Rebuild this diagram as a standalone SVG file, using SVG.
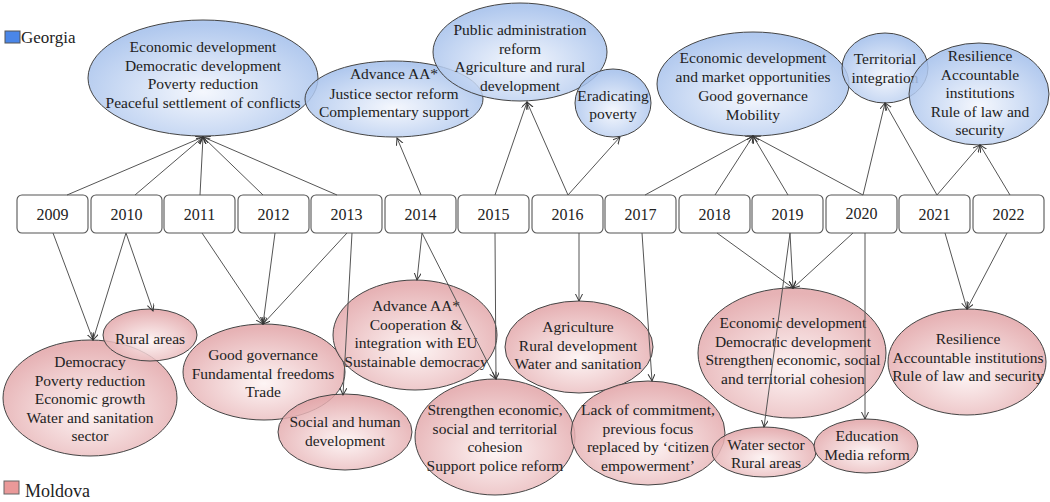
<svg xmlns="http://www.w3.org/2000/svg" width="1050" height="502" viewBox="0 0 1050 502">
<defs>
<radialGradient id="gb" cx="50%" cy="62%" r="58%">
<stop offset="0" stop-color="#f3f6fd"/>
<stop offset="1" stop-color="#a3bfeb"/>
</radialGradient>
<radialGradient id="gp" cx="50%" cy="62%" r="58%">
<stop offset="0" stop-color="#fdf3f3"/>
<stop offset="1" stop-color="#e2a5a8"/>
</radialGradient>
<marker id="ah" markerUnits="userSpaceOnUse" markerWidth="10" markerHeight="10" refX="7" refY="3.5" orient="auto">
<path d="M0,0 L7,3.5 L0,7" fill="none" stroke="#333" stroke-width="1"/>
</marker>
</defs>
<style>
text{font-family:"Liberation Serif","Times New Roman",serif;fill:#222;text-anchor:middle}
.t{font-size:15.5px}
.yr{font-size:16px}
.leg{font-size:17px;text-anchor:start}
.g{fill:url(#gb);fill-opacity:0.85;stroke:#444;stroke-width:1}
.m{fill:url(#gp);fill-opacity:0.85;stroke:#444;stroke-width:1}
.box{fill:#fff;stroke:#555;stroke-width:1.1}
.c line{stroke:#555;stroke-width:1;marker-end:url(#ah)}
</style>
<rect width="1050" height="502" fill="#fff"/>

<g id="legend-georgia">
<rect x="5" y="31" width="15" height="12" fill="#4a86e8" stroke="#555"/>
<text class="leg" x="21" y="43">Georgia</text>
</g>
<g id="legend-moldova">
<rect x="4" y="481" width="15" height="13" fill="#ea9999" stroke="#666"/>
<text class="leg" x="25" y="497" style="font-size:18px">Moldova</text>
</g>

<!-- Georgia nodes -->
<g id="g1"><ellipse class="g" cx="203" cy="78" rx="115" ry="58"/>
<text class="t" x="203" y="52">Economic development</text>
<text class="t" x="203" y="70.5">Democratic development</text>
<text class="t" x="203" y="89">Poverty reduction</text>
<text class="t" x="203" y="107.5">Peaceful settlement of conflicts</text></g>
<g id="g2"><ellipse class="g" cx="394" cy="99" rx="89" ry="38"/>
<text class="t" x="394" y="79">Advance AA*</text>
<text class="t" x="394" y="98.5">Justice sector reform</text>
<text class="t" x="394" y="117">Complementary support</text></g>
<g id="g3"><ellipse class="g" cx="520" cy="52" rx="87" ry="49"/>
<text class="t" x="520" y="35">Public administration</text>
<text class="t" x="520" y="53.7">reform</text>
<text class="t" x="520" y="72.4">Agriculture and rural</text>
<text class="t" x="520" y="91">development</text></g>
<g id="g4"><ellipse class="g" cx="613" cy="103" rx="38" ry="34"/>
<text class="t" x="613" y="101">Eradicating</text>
<text class="t" x="613" y="119">poverty</text></g>
<g id="g5"><ellipse class="g" cx="753" cy="84" rx="96" ry="52"/>
<text class="t" x="753" y="63">Economic development</text>
<text class="t" x="753" y="82">and market opportunities</text>
<text class="t" x="753" y="101">Good governance</text>
<text class="t" x="753" y="120">Mobility</text></g>
<g id="g6"><ellipse class="g" cx="885" cy="68" rx="43" ry="35"/>
<text class="t" x="885" y="64">Territorial</text>
<text class="t" x="885" y="83">integration</text></g>
<g id="g7"><ellipse class="g" cx="979" cy="94" rx="70" ry="51"/>
<text class="t" x="980" y="61">Resilience</text>
<text class="t" x="980" y="79.5">Accountable</text>
<text class="t" x="980" y="98">institutions</text>
<text class="t" x="980" y="116.5">Rule of law and</text>
<text class="t" x="980" y="135">security</text></g>

<!-- Year nodes -->
<g id="y2009"><rect class="box" x="17" y="195" width="71" height="38" rx="5"/><text class="yr" x="52.5" y="220">2009</text></g>
<g id="y2010"><rect class="box" x="91" y="195" width="71" height="38" rx="5"/><text class="yr" x="126.5" y="220">2010</text></g>
<g id="y2011"><rect class="box" x="164" y="195" width="71" height="38" rx="5"/><text class="yr" x="199.5" y="220">2011</text></g>
<g id="y2012"><rect class="box" x="238" y="195" width="71" height="38" rx="5"/><text class="yr" x="273.5" y="220">2012</text></g>
<g id="y2013"><rect class="box" x="311" y="195" width="71" height="38" rx="5"/><text class="yr" x="346.5" y="220">2013</text></g>
<g id="y2014"><rect class="box" x="385" y="195" width="71" height="38" rx="5"/><text class="yr" x="420.5" y="220">2014</text></g>
<g id="y2015"><rect class="box" x="458" y="195" width="71" height="38" rx="5"/><text class="yr" x="493.5" y="220">2015</text></g>
<g id="y2016"><rect class="box" x="532" y="195" width="71" height="38" rx="5"/><text class="yr" x="567.5" y="220">2016</text></g>
<g id="y2017"><rect class="box" x="605" y="195" width="71" height="38" rx="5"/><text class="yr" x="640.5" y="220">2017</text></g>
<g id="y2018"><rect class="box" x="679" y="195" width="71" height="38" rx="5"/><text class="yr" x="714.5" y="220">2018</text></g>
<g id="y2019"><rect class="box" x="752" y="195" width="71" height="38" rx="5"/><text class="yr" x="787.5" y="220">2019</text></g>
<g id="y2020"><rect class="box" x="826" y="195" width="71" height="38" rx="5"/><text class="yr" x="861.5" y="219">2020</text></g>
<g id="y2021"><rect class="box" x="899" y="195" width="71" height="38" rx="5"/><text class="yr" x="934.5" y="220">2021</text></g>
<g id="y2022"><rect class="box" x="973" y="195" width="71" height="38" rx="5"/><text class="yr" x="1008.5" y="220">2022</text></g>

<!-- Moldova nodes -->
<g id="m1"><ellipse class="m" cx="90" cy="398" rx="87" ry="58"/>
<text class="t" x="90" y="367">Democracy</text>
<text class="t" x="90" y="385.5">Poverty reduction</text>
<text class="t" x="90" y="404">Economic growth</text>
<text class="t" x="90" y="422.5">Water and sanitation</text>
<text class="t" x="90" y="441">sector</text></g>
<g id="m2"><ellipse class="m" cx="150" cy="335" rx="47" ry="26"/>
<text class="t" x="150" y="344">Rural areas</text></g>
<g id="m3"><ellipse class="m" cx="264" cy="372" rx="81" ry="48"/>
<text class="t" x="263" y="360">Good governance</text>
<text class="t" x="263" y="378.5">Fundamental freedoms</text>
<text class="t" x="263" y="397">Trade</text></g>
<g id="m4"><ellipse class="m" cx="345" cy="432" rx="67" ry="38"/>
<text class="t" x="345" y="427">Social and human</text>
<text class="t" x="345" y="446">development</text></g>
<g id="m5"><ellipse class="m" cx="415" cy="335" rx="82" ry="55"/>
<text class="t" x="416" y="311">Advance AA*</text>
<text class="t" x="416" y="329.5">Cooperation &amp;</text>
<text class="t" x="416" y="348">integration with EU</text>
<text class="t" x="416" y="366.5">Sustainable democracy</text></g>
<g id="m6"><ellipse class="m" cx="579" cy="347" rx="74" ry="46"/>
<text class="t" x="578" y="332">Agriculture</text>
<text class="t" x="578" y="350.5">Rural development</text>
<text class="t" x="578" y="369">Water and sanitation</text></g>
<g id="m7"><ellipse class="m" cx="495" cy="437" rx="80" ry="58"/>
<text class="t" x="495" y="415">Strengthen economic,</text>
<text class="t" x="495" y="433.5">social and territorial</text>
<text class="t" x="495" y="452">cohesion</text>
<text class="t" x="495" y="470.5">Support police reform</text></g>
<g id="m8"><ellipse class="m" cx="648" cy="433" rx="77" ry="52"/>
<text class="t" x="648" y="415">Lack of commitment,</text>
<text class="t" x="648" y="433.5">previous focus</text>
<text class="t" x="648" y="452">replaced by ‘citizen</text>
<text class="t" x="648" y="470.5">empowerment’</text></g>
<g id="m9"><ellipse class="m" cx="792" cy="353" rx="94" ry="65"/>
<text class="t" x="793" y="328">Economic development</text>
<text class="t" x="793" y="346.5">Democratic development</text>
<text class="t" x="793" y="365">Strengthen economic, social</text>
<text class="t" x="793" y="383.5">and territorial cohesion</text></g>
<g id="m10"><ellipse class="m" cx="967" cy="362" rx="79" ry="53"/>
<text class="t" x="968" y="344">Resilience</text>
<text class="t" x="968" y="362.5">Accountable institutions</text>
<text class="t" x="968" y="381">Rule of law and security</text></g>
<g id="m11"><ellipse class="m" cx="764" cy="452" rx="52" ry="25"/>
<text class="t" x="766" y="450">Water sector</text>
<text class="t" x="766" y="468">Rural areas</text></g>
<g id="m12"><ellipse class="m" cx="866" cy="446" rx="52" ry="27"/>
<text class="t" x="867" y="441">Education</text>
<text class="t" x="867" y="459.5">Media reform</text></g>

<g id="connectors" class="c">
<line x1="67" y1="195" x2="203" y2="137"/>
<line x1="135" y1="195" x2="203" y2="137"/>
<line x1="200" y1="195" x2="203" y2="137"/>
<line x1="263" y1="195" x2="203" y2="137"/>
<line x1="337" y1="195" x2="203" y2="137"/>
<line x1="421" y1="195" x2="397" y2="138"/>
<line x1="495" y1="195" x2="527" y2="102"/>
<line x1="568" y1="195" x2="527" y2="102"/>
<line x1="568" y1="195" x2="620" y2="137"/>
<line x1="645" y1="195" x2="753" y2="136"/>
<line x1="715" y1="195" x2="753" y2="136"/>
<line x1="788" y1="195" x2="753" y2="136"/>
<line x1="863" y1="195" x2="753" y2="136"/>
<line x1="863" y1="195" x2="885" y2="103"/>
<line x1="937" y1="195" x2="885" y2="103"/>
<line x1="937" y1="195" x2="980" y2="145"/>
<line x1="1010" y1="195" x2="980" y2="145"/>

<line x1="53" y1="233" x2="93" y2="340"/>
<line x1="126" y1="233" x2="93" y2="340"/>
<line x1="126" y1="233" x2="153" y2="311"/>
<line x1="202" y1="233" x2="263" y2="324"/>
<line x1="275" y1="233" x2="263" y2="324"/>
<line x1="347" y1="233" x2="263" y2="324"/>
<line x1="352" y1="233" x2="343" y2="395"/>
<line x1="422" y1="233" x2="417" y2="280"/>
<line x1="422" y1="233" x2="496" y2="379"/>
<line x1="495" y1="233" x2="496" y2="379"/>
<line x1="579" y1="233" x2="579" y2="301"/>
<line x1="642" y1="233" x2="652" y2="381"/>
<line x1="717" y1="233" x2="793" y2="288"/>
<line x1="790" y1="233" x2="793" y2="288"/>
<line x1="790" y1="233" x2="764" y2="427"/>
<line x1="853" y1="233" x2="793" y2="288"/>
<line x1="865" y1="233" x2="865" y2="419"/>
<line x1="945" y1="233" x2="967" y2="309"/>
<line x1="1007" y1="233" x2="967" y2="309"/>
</g>
</svg>
